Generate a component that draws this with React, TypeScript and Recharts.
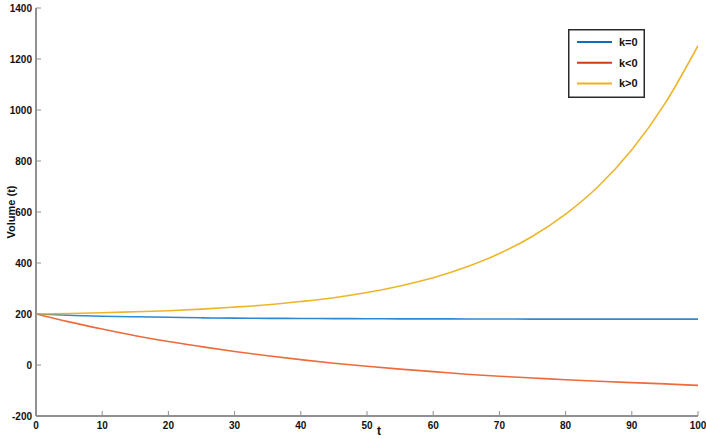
import React from 'react';
import { LineChart, Line, XAxis, YAxis, Legend, Label } from 'recharts';

// time axis (t) and the three volume curves
const T = [0, 5, 10, 15, 20, 25, 30, 35, 40, 45, 50, 55, 60, 65, 70, 75, 80, 85, 90, 95, 100];
const K_ZERO = [200, 195, 191, 189, 187, 185, 184, 183, 182.5, 182, 181.5, 181, 181, 180.5, 180.5, 180, 180, 180, 180, 180, 180];
const K_NEG = [200, 169, 141, 115, 92, 72, 53, 36, 21, 7, -5, -16, -26, -36, -44, -51, -58, -64, -69, -74, -80];
const K_POS = [200, 202, 205, 209, 213, 219, 227, 236, 249, 264, 284, 310, 342, 384, 437, 505, 592, 702, 844, 1025, 1252];

const X_TICKS = [0, 10, 20, 30, 40, 50, 60, 70, 80, 90, 100];
const Y_TICKS = [-200, 0, 200, 400, 600, 800, 1000, 1200, 1400];

const SERIES = [
  { key: 'k0', name: 'k=0', line: '#2E88D3', legend: '#0A6FC0' },
  { key: 'kneg', name: 'k<0', line: '#EE6A3A', legend: '#D23A14' },
  { key: 'kpos', name: 'k>0', line: '#EFB52A', legend: '#EDB120' },
];

const data = T.map((t, i) => ({ t, k0: K_ZERO[i], kneg: K_NEG[i], kpos: K_POS[i] }));

const FONT = '"Liberation Sans", Arial, sans-serif';
const AXIS_GRAY = '#909090';
const TICK_LEN = 5;
const X_MARGIN = 6;
const Y_MARGIN = 4;

const BottomTick = (props: any) => {
  const { x, y, payload } = props;
  const axisY = y - X_MARGIN;
  return (
    <g>
      <line x1={x} x2={x} y1={axisY} y2={axisY - TICK_LEN} stroke={AXIS_GRAY} />
      <text x={x} y={y} dy="0.71em" textAnchor="middle" fontFamily={FONT} fontWeight="bold" fontSize={10} fill="#111">
        {payload.value}
      </text>
    </g>
  );
};

const LeftTick = (props: any) => {
  const { x, y, payload } = props;
  const axisX = x + Y_MARGIN;
  return (
    <g>
      <line x1={axisX} x2={axisX + TICK_LEN} y1={y} y2={y} stroke={AXIS_GRAY} />
      <text x={x} y={y} dy="0.355em" textAnchor="end" fontFamily={FONT} fontWeight="bold" fontSize={10} fill="#111">
        {payload.value}
      </text>
    </g>
  );
};

const TopTick = (props: any) => {
  const { x, y } = props;
  return <line x1={x} x2={x} y1={y} y2={y + TICK_LEN} stroke={AXIS_GRAY} />;
};

const RightTick = (props: any) => {
  const { x, y } = props;
  return <line x1={x} x2={x - TICK_LEN} y1={y} y2={y} stroke={AXIS_GRAY} />;
};

const renderLegend = () => (
  <svg width={77} height={69} style={{ display: 'block' }}>
    <rect x={0.75} y={0.75} width={75.5} height={67.5} fill="#fff" stroke="#2a2a2a" strokeWidth={1.5} />
    {SERIES.map((s, i) => {
      const cy = 13 + i * 20.7;
      return (
        <g key={s.key}>
          <line x1={9} x2={44} y1={cy} y2={cy} stroke={s.legend} strokeWidth={2} />
          <text x={51} y={cy} dy="0.36em" fontFamily={FONT} fontWeight="bold" fontSize={11} fill="#111">
            {s.name}
          </text>
        </g>
      );
    })}
  </svg>
);

const VolumeChart: React.FC = () => {
  return (
    <div style={{ position: 'absolute', left: 0, top: 0, background: '#fff' }}>
      <LineChart width={706} height={439} data={data} margin={{ top: 8, right: 8, bottom: 3, left: 6 }}>
        <XAxis
          dataKey="t"
          type="number"
          domain={[0, 100]}
          ticks={X_TICKS}
          allowDataOverflow
          height={20}
          tickSize={0}
          tickMargin={X_MARGIN}
          tick={<BottomTick />}
          axisLine={{ stroke: AXIS_GRAY, strokeWidth: 2 }}
          interval={0}
        >
          <Label
            content={(p: any) => {
              const vb = p.viewBox || {};
              return (
                <text x={vb.x + vb.width / 2 + 12} y={vb.y + 19} fontFamily={FONT} fontWeight="bold" fontSize={12} fill="#111" textAnchor="middle">
                  t
                </text>
              );
            }}
          />
        </XAxis>
        <XAxis
          xAxisId="top"
          orientation="top"
          type="number"
          domain={[0, 100]}
          ticks={X_TICKS}
          allowDataOverflow
          height={0}
          tickSize={0}
          tickMargin={0}
          tick={<TopTick />}
          axisLine={{ stroke: AXIS_GRAY, strokeWidth: 1.5 }}
          interval={0}
        />
        <YAxis
          type="number"
          domain={[-200, 1400]}
          ticks={Y_TICKS}
          allowDataOverflow
          width={30}
          tickSize={0}
          tickMargin={Y_MARGIN}
          tick={<LeftTick />}
          axisLine={{ stroke: AXIS_GRAY, strokeWidth: 2 }}
          interval={0}
        >
          <Label
            content={(p: any) => {
              const vb = p.viewBox || {};
              const cx = vb.x + 5;
              const cy = vb.y + vb.height / 2;
              return (
                <text x={cx} y={cy} transform={`rotate(-90 ${cx} ${cy})`} dy="0.36em" textAnchor="middle" fontFamily={FONT} fontWeight="bold" fontSize={11} fill="#111">
                  Volume (t)
                </text>
              );
            }}
          />
        </YAxis>
        <YAxis
          yAxisId="right"
          orientation="right"
          type="number"
          domain={[-200, 1400]}
          ticks={Y_TICKS}
          allowDataOverflow
          width={0}
          tickSize={0}
          tickMargin={0}
          tick={<RightTick />}
          axisLine={{ stroke: AXIS_GRAY, strokeWidth: 2.5 }}
          interval={0}
        />
        <Legend
          layout="vertical"
          align="center"
          verticalAlign="middle"
          wrapperStyle={{ left: 568, top: 29, width: 77, height: 69 }}
          content={renderLegend}
        />
        {SERIES.map((s) => (
          <Line
            key={s.key}
            type="monotone"
            dataKey={s.key}
            name={s.name}
            stroke={s.line}
            strokeWidth={1.6}
            dot={false}
            isAnimationActive={false}
          />
        ))}
      </LineChart>
    </div>
  );
};

export default VolumeChart;
